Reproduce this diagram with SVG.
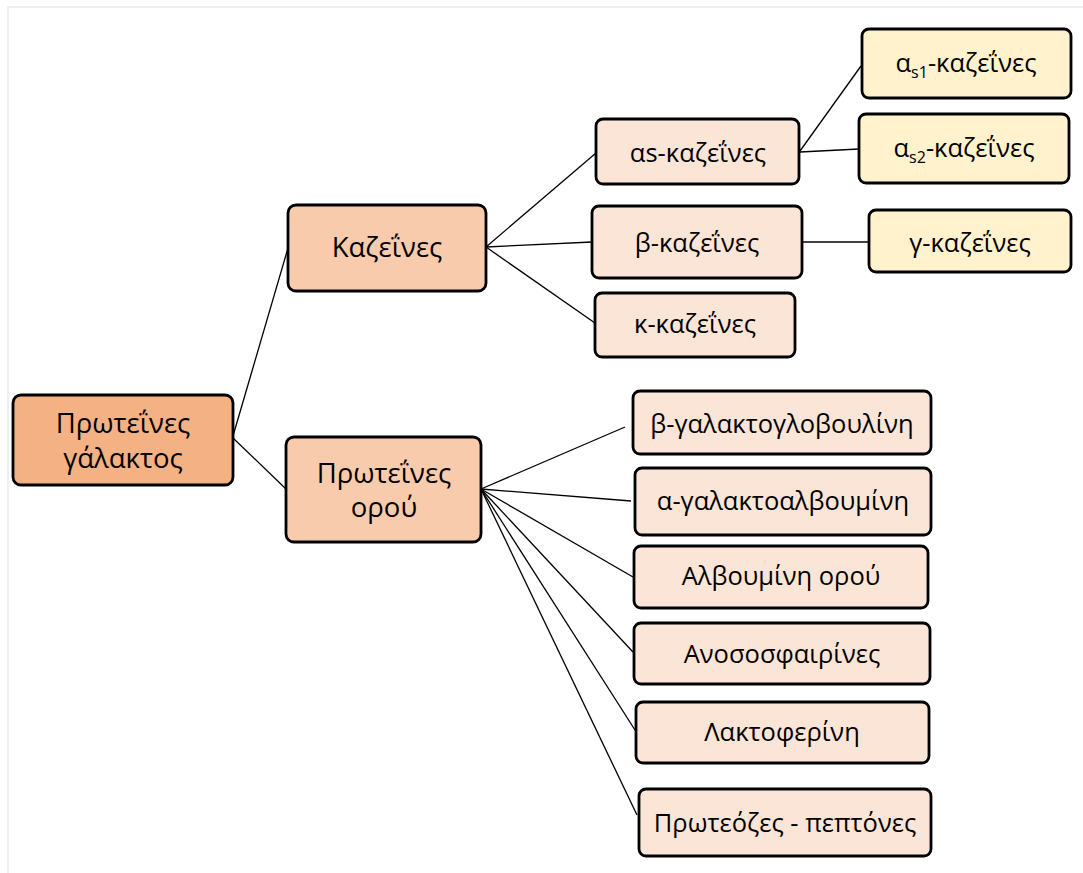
<svg xmlns="http://www.w3.org/2000/svg" width="1083" height="873" viewBox="0 0 1083 873">
<style>
  .box{stroke:#000;stroke-width:2.8}
  .l0{fill:#F4B183}
  .l1{fill:#F8CBAD}
  .l2{fill:#FBE5D6}
  .l3{fill:#FFF2CC}
  text{font-family:"Open Sans","Noto Sans","DejaVu Sans",sans-serif;fill:#000;text-anchor:middle}
  .big{font-size:27.5px}
  .sm{font-size:25.5px}
  .sub{font-size:16px}
  .conn line{stroke:#000;stroke-width:1.3}
  .frame{stroke:#eeeeee;stroke-width:2;fill:none}
</style>
<rect width="1083" height="873" fill="#fff"/>
<path class="frame" d="M8,873 V7 H1083"/>
<g id="connectors" class="conn">
  <line x1="233" y1="436" x2="288" y2="248"/>
  <line x1="233" y1="438" x2="286" y2="489"/>
  <line x1="486" y1="247" x2="596" y2="153"/>
  <line x1="486" y1="247" x2="592" y2="242"/>
  <line x1="486" y1="247" x2="595" y2="323"/>
  <line x1="800" y1="151" x2="861" y2="66"/>
  <line x1="800" y1="152" x2="859" y2="149"/>
  <line x1="802" y1="242" x2="869" y2="242"/>
  <line x1="481" y1="489" x2="625" y2="427"/>
  <line x1="481" y1="489" x2="631" y2="501"/>
  <line x1="481" y1="489" x2="633" y2="577"/>
  <line x1="481" y1="489" x2="633" y2="652"/>
  <line x1="481" y1="489" x2="635" y2="730"/>
  <line x1="481" y1="489" x2="637" y2="815"/>
</g>
<g id="n-root"><rect class="box l0" x="13" y="395" width="220" height="90" rx="8"/>
  <text class="big" x="123" y="433">Πρωτεΐνες</text><text class="big" x="123" y="468">γάλακτος</text></g>
<g id="n-kazeines"><rect class="box l1" x="288" y="205" width="198" height="86" rx="8"/>
  <text class="big" x="387" y="257">Καζεΐνες</text></g>
<g id="n-orou"><rect class="box l1" x="286" y="437" width="195" height="105" rx="8"/>
  <text class="big" x="384" y="483">Πρωτεΐνες</text><text class="big" x="384" y="517">ορού</text></g>
<g id="n-as"><rect class="box l2" x="596" y="119" width="203" height="65" rx="7"/>
  <text class="sm" x="698" y="162">αs-καζεΐνες</text></g>
<g id="n-b"><rect class="box l2" x="592" y="206" width="210" height="72" rx="7"/>
  <text class="sm" x="697" y="252">β-καζεΐνες</text></g>
<g id="n-k"><rect class="box l2" x="595" y="293" width="200" height="64" rx="7"/>
  <text class="sm" x="695" y="333">κ-καζεΐνες</text></g>
<g id="n-as1"><rect class="box l3" x="862" y="29" width="209" height="69" rx="7"/>
  <text class="sm" x="966" y="72">α<tspan class="sub" dy="6">s1</tspan><tspan dy="-6">-καζεΐνες</tspan></text></g>
<g id="n-as2"><rect class="box l3" x="859" y="114" width="210" height="69" rx="7"/>
  <text class="sm" x="964" y="157">α<tspan class="sub" dy="6">s2</tspan><tspan dy="-6">-καζεΐνες</tspan></text></g>
<g id="n-g"><rect class="box l3" x="869" y="210" width="202" height="62" rx="7"/>
  <text class="sm" x="970" y="252">γ-καζεΐνες</text></g>
<g id="n-blg"><rect class="box l2" x="633" y="391" width="298" height="63" rx="7"/>
  <text class="sm" x="782" y="433">β-γαλακτογλοβουλίνη</text></g>
<g id="n-alb"><rect class="box l2" x="635" y="468" width="296" height="67" rx="7"/>
  <text class="sm" x="783" y="510">α-γαλακτοαλβουμίνη</text></g>
<g id="n-albor"><rect class="box l2" x="634" y="546" width="294" height="62" rx="7"/>
  <text class="sm" x="781" y="585">Αλβουμίνη ορού</text></g>
<g id="n-anos"><rect class="box l2" x="634" y="623" width="296" height="61" rx="7"/>
  <text class="sm" x="782" y="663">Ανοσοσφαιρίνες</text></g>
<g id="n-lakt"><rect class="box l2" x="636" y="702" width="293" height="61" rx="7"/>
  <text class="sm" x="782" y="741">Λακτοφερίνη</text></g>
<g id="n-prot"><rect class="box l2" x="639" y="789" width="292" height="67" rx="7"/>
  <text class="sm" x="785" y="832">Πρωτεόζες - πεπτόνες</text></g>
</svg>
